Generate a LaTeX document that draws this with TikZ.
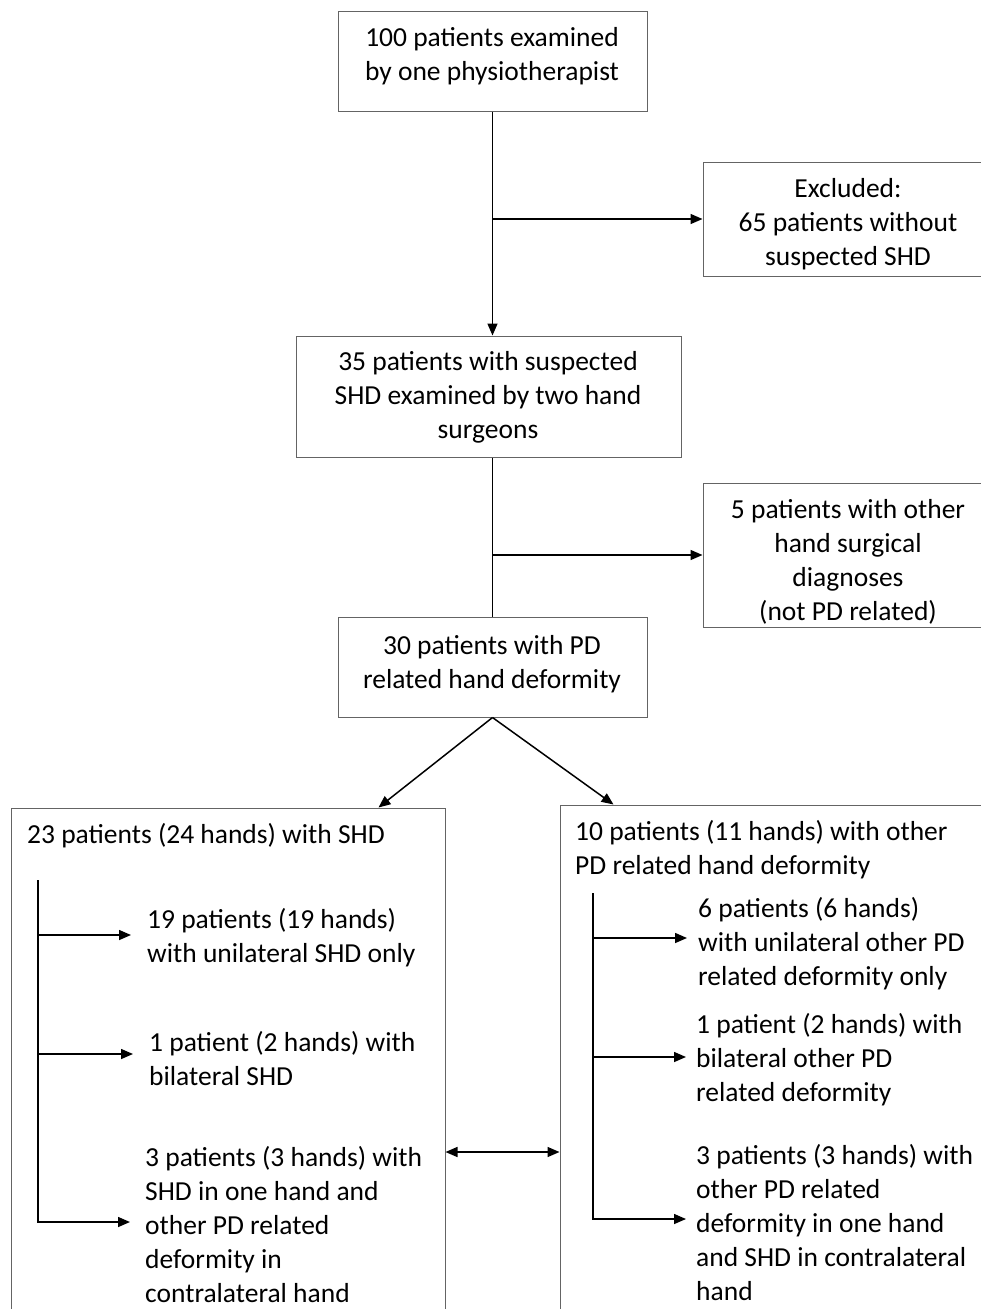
\documentclass[tikz,border=0pt]{standalone}
\usepackage{fontspec}
\setmainfont{Carlito}
\usetikzlibrary{arrows.meta}
\definecolor{boxgray}{RGB}{100,100,100}

\begin{document}
\begin{tikzpicture}[x=1pt, y=-1pt,
    panel/.style={draw=boxgray, line width=1pt, inner sep=0pt},
    txt/.style={inner sep=0pt, align=center, anchor=north, font=\fontsize{27.5}{34}\selectfont, text=black},
    ltxt/.style={txt, align=left, anchor=north west},
    link/.style={line width=1.5pt},
    arrow/.style={link, -{Triangle[length=12pt,width=10pt]}},
    dblarrow/.style={link, {Triangle[length=12pt,width=10pt]}-{Triangle[length=12pt,width=10pt]}}]
    \useasboundingbox (0,0) rectangle (981,1309);
    \clip (0,0) rectangle (981,1309);
    % boxes
    \node[panel, minimum width=309, minimum height=100] (exam) at (492.5,61) {};
    \node[panel, minimum width=290, minimum height=114] (excl) at (848,219) {};
    \node[panel, minimum width=385, minimum height=121] (susp) at (488.5,396.5) {};
    \node[panel, minimum width=290, minimum height=144] (five) at (848,555) {};
    \node[panel, minimum width=309, minimum height=100] (pdhand) at (492.5,667) {};
    \node[panel, minimum width=434, minimum height=532] (shd) at (228,1074) {};
    \node[panel, minimum width=450, minimum height=535] (other) at (785,1072.5) {};
    % texts
    \node[txt] (examtxt) at (492,22.2) {\strut 100 patients examined\\by one physiotherapist};
    \node[txt] (excltxt) at (848,173.2) {\strut Excluded:\\65 patients without\\suspected SHD};
    \node[txt] (susptxt) at (488,346.2) {\strut 35 patients with suspected\\SHD examined by two hand\\surgeons};
    \node[txt] (fivetxt) at (848,494.2) {\strut 5 patients with other\\hand surgical\\diagnoses\\(not PD related)};
    \node[txt] (pdhandtxt) at (492,630.2) {\strut 30 patients with PD\\related hand deformity};
    \node[ltxt] (shdtxt) at (27,819.2) {\strut 23 patients (24 hands) with SHD};
    \node[ltxt] (othertxt) at (575,816.2) {\strut 10 patients (11 hands) with other\\PD related hand deformity};
    \node[ltxt] (l19) at (147,904.2) {\strut 19 patients (19 hands)\\with unilateral SHD only};
    \node[ltxt] (l1) at (149,1027.2) {\strut 1 patient (2 hands) with\\bilateral SHD};
    \node[ltxt] (l3) at (145,1142.2) {\strut 3 patients (3 hands) with\\SHD in one hand and\\other PD related\\deformity in\\contralateral hand};
    \node[ltxt] (r6) at (698,893.2) {\strut 6 patients (6 hands)\\with unilateral other PD\\related deformity only};
    \node[ltxt] (r1) at (696,1009.2) {\strut 1 patient (2 hands) with\\bilateral other PD\\related deformity};
    \node[ltxt] (r3) at (696,1140.2) {\strut 3 patients (3 hands) with\\other PD related\\deformity in one hand\\and SHD in contralateral\\hand};
    % main flow
    \draw[arrow] (exam.south) -- (exam.south |- susp.north);
    \draw[arrow] (exam.south |- excl.west) -- (excl.west);
    \draw[link] (susp.south -| pdhand.north) -- (pdhand.north);
    \draw[arrow] (pdhand.north |- five.west) -- (five.west);
    \draw[arrow] (pdhand.south) -- ([xshift=-67]shd.north east);
    \draw[arrow] (pdhand.south) -- ([xshift=54]other.north west);
    \draw[dblarrow] ([yshift=-78]shd.east) -- ([yshift=-78]shd.east -| other.west);
    % left branches
    \coordinate (lstop) at (38,880);
    \coordinate (ls1) at (38,935);
    \coordinate (ls2) at (38,1054);
    \coordinate (ls3) at (38,1222);
    \draw[arrow, shorten >=16pt] (ls1) -- (ls1 -| l19.west);
    \draw[arrow, shorten >=16pt] (ls2) -- (ls2 -| l1.west);
    \draw[arrow, shorten >=15pt] (lstop) -- (ls3) -- (ls3 -| l3.west);
    % right branches
    \coordinate (rstop) at (593,893);
    \coordinate (rs1) at (593,938);
    \coordinate (rs2) at (593,1057);
    \coordinate (rs3) at (593,1219);
    \draw[arrow, shorten >=11pt] (rs1) -- (rs1 -| r6.west);
    \draw[arrow, shorten >=10pt] (rs2) -- (rs2 -| r1.west);
    \draw[arrow, shorten >=10pt] (rstop) -- (rs3) -- (rs3 -| r3.west);
\end{tikzpicture}
\end{document}
